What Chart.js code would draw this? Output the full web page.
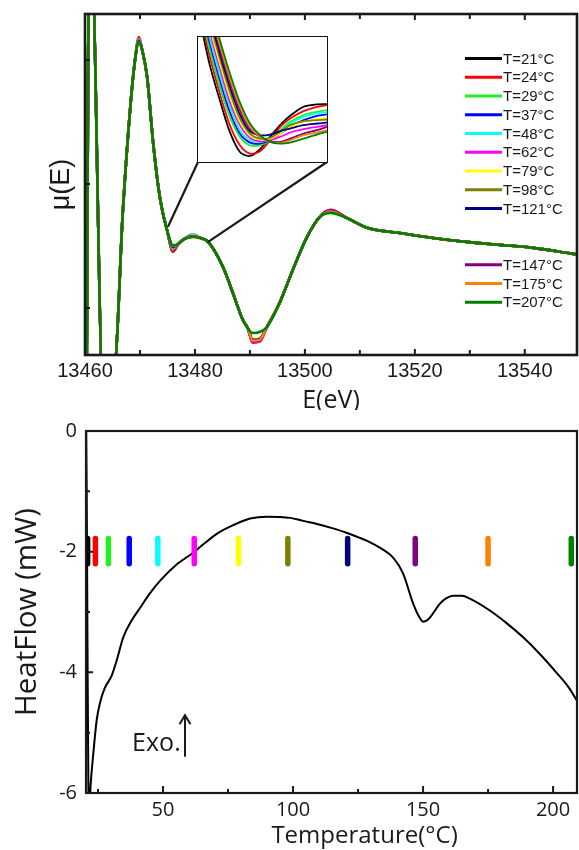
<!DOCTYPE html>
<html>
<head>
<meta charset="utf-8">
<script src="https://cdn.jsdelivr.net/npm/chart.js@4.4.0/dist/chart.umd.min.js"></script>
<style>
  html, body { margin: 0; padding: 0; background: #fff; }
  #wrap { position: relative; width: 579px; height: 850px; }
  #xanes { position: absolute; left: 0; top: 0; }
  #dsc { position: absolute; left: 0; top: 410px; }
  #zoomBox { position: absolute; left: 197px; top: 36px; width: 129px; height: 125px; border: 1.5px solid #111; background: #fff; }
  #zoomCanvas { display: block; }
</style>
</head>
<body>
<div id="wrap">
  <canvas id="xanes" width="579" height="410"></canvas>
  <div id="zoomBox"><canvas id="zoomCanvas" width="129" height="125"></canvas></div>
  <canvas id="dsc" width="579" height="440"></canvas>
</div>
<script>
// ---- XANES spectra (top panel) ----
const temps = [21, 24, 29, 37, 48, 62, 79, 98, 121, 147, 175, 207];
const seriesColors = ['#000000', '#ff0000', '#22ee22', '#0000ff', '#00ffff', '#ff00ff',
  '#ffff00', '#808000', '#000080', '#800080', '#ff8000', '#008000'];

const energy = [13460.3, 13460.75, 13461.2, 13463.25, 13465.25, 13466.9, 13468.2, 13469.1, 13469.8,
  13470.5, 13471.3, 13472.4, 13473.6, 13474.9, 13476.0, 13477.0, 13477.8, 13479.6, 13481.0, 13482.4,
  13485.1, 13486.9, 13488.7, 13489.6, 13490.5, 13491.8, 13493.1, 13495.4, 13497.8, 13500.4, 13502.7,
  13504.7, 13507.6, 13511.3, 13517.3, 13523.3, 13529.5, 13535.5, 13541.5, 13547.6, 13549.8];
const muBase = [0.2, 1.9, 1.9, 0.2, 0.22, 0.895, 1.298, 1.5, 1.573,
  1.53, 1.431, 1.165, 0.948, 0.815, 0.752, 0.758, 0.774, 0.786, 0.782, 0.766,
  0.665, 0.56, 0.452, 0.419, 0.399, 0.40, 0.423, 0.52, 0.653, 0.786, 0.867,
  0.883, 0.863, 0.823, 0.802, 0.782, 0.766, 0.754, 0.742, 0.722, 0.714];

// where the temperatures differ a little (values per temperature)
const peakE = 13469.8, dipE = 13476.0, bumpE = 13479.6, minE = 13490.5, min2E = 13491.8, postE = 13504.7;
const muPeak = [1.585, 1.592, 1.583, 1.58, 1.582, 1.578, 1.576, 1.575, 1.577, 1.574, 1.573, 1.573];
const muDip  = [0.73, 0.726, 0.735, 0.738, 0.74, 0.742, 0.744, 0.745, 0.746, 0.748, 0.75, 0.752];
const muBump = [0.795, 0.796, 0.797, 0.794, 0.796, 0.793, 0.792, 0.79, 0.789, 0.788, 0.787, 0.786];
const muMin  = [0.365, 0.36, 0.37, 0.366, 0.372, 0.362, 0.368, 0.372, 0.37, 0.366, 0.368, 0.399];
const muPost = [0.893, 0.894, 0.892, 0.89, 0.893, 0.895, 0.89, 0.889, 0.891, 0.893, 0.888, 0.883];

const eTicks = [13460, 13470, 13480, 13490, 13500, 13510, 13520, 13530, 13540];
const muTicks = [0.5, 1.0, 1.5];

// inset (zoom on the first minimum)
const insetE = [13475.2, 13475.7, 13476.3, 13476.9, 13477.5, 13478.1, 13478.7, 13479.3, 13479.9,
  13480.5, 13481.3, 13482.1, 13482.7];
const insetMu = [
  [0.8485, 0.814, 0.7825, 0.754, 0.736, 0.7324, 0.7384, 0.7495, 0.76, 0.7684, 0.7765, 0.7786, 0.7789],   // 21
  [0.8545, 0.8215, 0.7885, 0.76, 0.742, 0.7345, 0.7366, 0.7465, 0.7585, 0.766, 0.7726, 0.7765, 0.778],  // 24
  [0.8605, 0.8275, 0.7945, 0.7675, 0.7495, 0.742, 0.742, 0.7465, 0.7555, 0.763, 0.769, 0.772, 0.7735],  // 29
  [0.865, 0.8335, 0.8005, 0.772, 0.7525, 0.7444, 0.7435, 0.7465, 0.7525, 0.7585, 0.7645, 0.7684, 0.7696], // 37
  [0.871, 0.838, 0.805, 0.7765, 0.7555, 0.7465, 0.745, 0.7474, 0.754, 0.7615, 0.7675, 0.7705, 0.7714],  // 48
  [0.877, 0.844, 0.811, 0.781, 0.76, 0.7486, 0.7456, 0.7465, 0.7495, 0.7534, 0.7564, 0.7585, 0.76],     // 62
  [0.8815, 0.8485, 0.8155, 0.7855, 0.763, 0.751, 0.7471, 0.748, 0.7525, 0.7585, 0.763, 0.7654, 0.7666], // 79
  [0.886, 0.853, 0.82, 0.79, 0.766, 0.7525, 0.748, 0.7486, 0.754, 0.76, 0.7636, 0.7645, 0.7651],        // 98
  [0.8905, 0.8575, 0.8245, 0.7945, 0.7696, 0.7546, 0.751, 0.7516, 0.7546, 0.757, 0.76, 0.7615, 0.7624], // 121
  [0.895, 0.862, 0.829, 0.799, 0.7735, 0.757, 0.7495, 0.7456, 0.745, 0.748, 0.7525, 0.7555, 0.7585],   // 147
  [0.898, 0.865, 0.832, 0.802, 0.7765, 0.7585, 0.7495, 0.745, 0.7441, 0.7465, 0.751, 0.7534, 0.7555],  // 175
  [0.9025, 0.8695, 0.8365, 0.8065, 0.7804, 0.7615, 0.751, 0.745, 0.7435, 0.7444, 0.748, 0.7516, 0.754] // 207
];
// points on the main curve that the inset frame is tied to
const zoomAnchors = [{ x: 13475.1, y: 0.827 }, { x: 13482.4, y: 0.766 }];

// ---- DSC (bottom panel) ----
const dscT = [20.45, 20.65, 20.95, 21.3, 21.7, 22.2, 23.2, 24.5, 25.8, 27.5, 30.3, 32.2, 34.7, 37.8, 41.2,
  44.8, 48.9, 55, 61.2, 66, 70.8, 77, 83.5, 90, 98.9, 104, 109.2, 115, 120.8, 125, 128.5,
  134, 138.5, 142.3, 146.2, 148.5, 150, 151.5, 152.7, 156.5, 159, 161.6, 165, 168, 175.8,
  182, 188.5, 195, 201.6, 206, 209.3];
const dscHF = [0.0, -1.0, -3.5, -5.9, -6.2, -5.84, -5.34, -4.79, -4.5, -4.27, -4.05, -3.8, -3.42, -3.15, -2.93,
  -2.7, -2.48, -2.22, -2.03, -1.86, -1.7, -1.56, -1.45, -1.42, -1.44, -1.49, -1.54, -1.61, -1.69, -1.76, -1.82,
  -1.95, -2.1, -2.36, -2.86, -3.08, -3.16, -3.14, -3.09, -2.86, -2.77, -2.73, -2.73, -2.78, -2.98,
  -3.18, -3.42, -3.7, -4.02, -4.25, -4.48];
const markTop = -1.78, markBottom = -2.2;
const tTicks = [25, 50, 75, 100, 125, 150, 175, 200];
const hfTicks = [-6, -5, -4, -3, -2, -1, 0];

const ink = '#1a1a1a';

function seriesMu(s) {
  const mu = muBase.slice();
  mu[energy.indexOf(peakE)] = muPeak[s];
  mu[energy.indexOf(dipE)] = muDip[s];
  mu[energy.indexOf(bumpE)] = muBump[s];
  mu[energy.indexOf(minE)] = muMin[s];
  mu[energy.indexOf(min2E)] = muMin[s] + 0.004;
  mu[energy.indexOf(postE)] = muPost[s];
  return mu;
}

// frame + inward ticks
function drawFrame(chart, xVals, xMajor, yVals, yMajor, opt) {
  const { ctx, chartArea: a, scales } = chart;
  ctx.save();
  ctx.strokeStyle = ink;
  ctx.lineWidth = opt.tickWidth;
  ctx.beginPath();
  xVals.forEach(v => {
    const px = scales.x.getPixelForValue(v);
    const len = xMajor(v) ? opt.major : opt.minor;
    ctx.moveTo(px, a.bottom); ctx.lineTo(px, a.bottom - len);
    if (opt.topTicks) { ctx.moveTo(px, a.top); ctx.lineTo(px, a.top + len); }
  });
  yVals.forEach(v => {
    const py = scales.y.getPixelForValue(v);
    const len = yMajor(v) ? opt.major : opt.minor;
    ctx.moveTo(a.left, py); ctx.lineTo(a.left + len, py);
  });
  ctx.stroke();
  ctx.lineWidth = opt.frameWidth;
  ctx.strokeRect(a.left, a.top, a.right - a.left, a.bottom - a.top);
  ctx.restore();
}

const xanesDecor = {
  id: 'xanesDecor',
  afterDraw(chart) {
    drawFrame(chart, eTicks, v => v % 20 === 0, muTicks, () => false,
      { tickWidth: 2, major: 6, minor: 5, topTicks: true, frameWidth: 2.6 });
    const { ctx, chartArea: a, scales } = chart;
    // lines from the inset frame to the zoomed region
    const box = document.getElementById('zoomBox');
    const boxBottom = box.offsetTop + box.offsetHeight - 1;
    const corners = [box.offsetLeft + 1, box.offsetLeft + box.offsetWidth - 1];
    ctx.save();
    ctx.strokeStyle = ink;
    ctx.lineWidth = 2.2;
    ctx.beginPath();
    zoomAnchors.forEach((p, i) => {
      ctx.moveTo(corners[i], boxBottom);
      ctx.lineTo(scales.x.getPixelForValue(p.x), scales.y.getPixelForValue(p.y));
    });
    ctx.stroke();
    // legend, with a gap after T=121°C
    ctx.font = '15px "Liberation Sans", Arial, sans-serif';
    ctx.textBaseline = 'middle';
    ctx.fillStyle = ink;
    const lx = a.right - 112, rowH = 18.75;
    temps.forEach((t, s) => {
      const row = s < 9 ? s : s + 2;
      const y = a.top + 44.5 + row * rowH;
      ctx.strokeStyle = seriesColors[s];
      ctx.lineWidth = 3;
      ctx.beginPath();
      ctx.moveTo(lx, y); ctx.lineTo(lx + 37, y);
      ctx.stroke();
      ctx.fillText('T=' + t + '°C', lx + 38, y + 1);
    });
    ctx.restore();
  }
};

new Chart(document.getElementById('xanes'), {
  type: 'line',
  data: {
    datasets: temps.map((t, s) => {
      const mu = seriesMu(s);
      return {
        label: 'T=' + t + '°C',
        data: energy.map((e, i) => ({ x: e, y: mu[i] })),
        borderColor: seriesColors[s],
        borderWidth: 2.6,
        pointRadius: 0,
        cubicInterpolationMode: 'monotone',
        order: temps.length - s
      };
    })
  },
  options: {
    responsive: false,
    animation: false,
    layout: { padding: { top: 14, right: 2, left: 0, bottom: 0 } },
    plugins: { legend: { display: false }, tooltip: { enabled: false } },
    scales: {
      x: {
        type: 'linear', min: 13460, max: 13549.5,
        grid: { display: false, drawTicks: false },
        border: { display: false },
        afterBuildTicks: sc => { sc.ticks = eTicks.map(v => ({ value: v })); },
        afterFit: sc => { sc.height = 55; },
        ticks: {
          autoSkip: false, maxRotation: 0, padding: 4, color: ink,
          font: { family: '"Liberation Sans", Arial, sans-serif', size: 20 },
          callback: v => (v % 20 === 0 ? String(v) : '')
        },
        title: {
          display: true, text: 'E(eV)', color: ink,
          font: { family: '"Open Sans", sans-serif', size: 25, lineHeight: 0.7 },
          padding: { top: 0, bottom: 0 }
        }
      },
      y: {
        min: 0.31, max: 1.685,
        grid: { display: false, drawTicks: false },
        border: { display: false },
        ticks: { display: false },
        afterFit: sc => { sc.width = 85; },
        title: {
          display: true, text: 'μ(E)', color: ink,
          font: { family: '"Liberation Sans", Arial, sans-serif', size: 27 },
          padding: { top: 45, bottom: 0 }
        }
      }
    }
  },
  plugins: [xanesDecor]
});

// inset chart
new Chart(document.getElementById('zoomCanvas'), {
  type: 'line',
  data: {
    datasets: temps.map((t, s) => ({
      data: insetE.map((e, i) => ({ x: e, y: insetMu[s][i] })),
      borderColor: seriesColors[s],
      borderWidth: 1.8,
      pointRadius: 0,
      tension: 0.3,
      order: temps.length - s
    }))
  },
  options: {
    responsive: false,
    animation: false,
    layout: { padding: 0 },
    plugins: { legend: { display: false }, tooltip: { enabled: false } },
    scales: {
      x: { type: 'linear', display: false, min: 13475, max: 13482.7 },
      y: { display: false, min: 0.727, max: 0.839 }
    }
  }
});

// ---- bottom chart ----
const dscDecor = {
  id: 'dscDecor',
  afterDraw(chart) {
    drawFrame(chart, tTicks, v => v % 50 === 0, hfTicks, v => v % 2 === 0,
      { tickWidth: 2, major: 7, minor: 4, topTicks: false, frameWidth: 2.2 });
    const { ctx, scales } = chart;
    ctx.save();
    ctx.fillStyle = ink;
    ctx.strokeStyle = ink;
    // x axis title (sits right of centre in the original)
    ctx.font = '24px "Open Sans", sans-serif';
    ctx.textAlign = 'center';
    ctx.textBaseline = 'middle';
    ctx.fillText('Temperature(°C)', scales.x.getPixelForValue(127.5), chart.height - 14);
    // "Exo." with upward arrow
    const ax = scales.x.getPixelForValue(58.45);
    const aTop = scales.y.getPixelForValue(-4.71);
    const aBot = scales.y.getPixelForValue(-5.40);
    ctx.font = '25px "Open Sans", sans-serif';
    ctx.textAlign = 'right';
    ctx.fillText('Exo.', scales.x.getPixelForValue(56.8), scales.y.getPixelForValue(-5.19));
    ctx.lineWidth = 2;
    ctx.beginPath();
    ctx.moveTo(ax, aBot); ctx.lineTo(ax, aTop + 1);
    ctx.moveTo(ax - 5.5, aTop + 9); ctx.lineTo(ax, aTop); ctx.lineTo(ax + 5.5, aTop + 9);
    ctx.stroke();
    ctx.restore();
  }
};

new Chart(document.getElementById('dsc'), {
  type: 'line',
  data: {
    datasets: [
      ...temps.map((t, s) => ({
        data: [{ x: t, y: markTop }, { x: t, y: markBottom }],
        borderColor: seriesColors[s],
        borderWidth: 5.5,
        borderCapStyle: 'round',
        pointRadius: 0,
        order: 1
      })),
      {
        label: 'HeatFlow',
        data: dscT.map((t, i) => ({ x: t, y: dscHF[i] })),
        borderColor: '#000',
        borderWidth: 2,
        pointRadius: 0,
        cubicInterpolationMode: 'monotone',
        order: 2
      }
    ]
  },
  options: {
    responsive: false,
    animation: false,
    layout: { padding: { top: 20, right: 2, left: 0, bottom: 0 } },
    plugins: { legend: { display: false }, tooltip: { enabled: false } },
    scales: {
      x: {
        type: 'linear', min: 20.38, max: 209.2,
        grid: { display: false, drawTicks: false },
        border: { display: false },
        afterBuildTicks: sc => { sc.ticks = tTicks.map(v => ({ value: v })); },
        afterFit: sc => { sc.height = 57; },
        ticks: {
          autoSkip: false, maxRotation: 0, padding: 5, color: ink,
          font: { family: '"Open Sans", sans-serif', size: 20 },
          callback: v => (v % 50 === 0 ? String(v) : '')
        },
        title: { display: false }
      },
      y: {
        min: -6, max: 0,
        grid: { display: false, drawTicks: false },
        border: { display: false },
        afterBuildTicks: sc => { sc.ticks = hfTicks.map(v => ({ value: v })); },
        afterFit: sc => { sc.width = 86; },
        ticks: {
          autoSkip: false, padding: 9, color: ink,
          font: { family: '"Open Sans", sans-serif', size: 20 },
          callback: v => (v % 2 === 0 ? String(v) : '')
        },
        title: {
          display: true, text: 'HeatFlow (mW)', color: ink,
          font: { family: '"Open Sans", sans-serif', size: 29.5 },
          padding: { top: 10, bottom: 0 }
        }
      }
    }
  },
  plugins: [dscDecor]
});
</script>
</body>
</html>
